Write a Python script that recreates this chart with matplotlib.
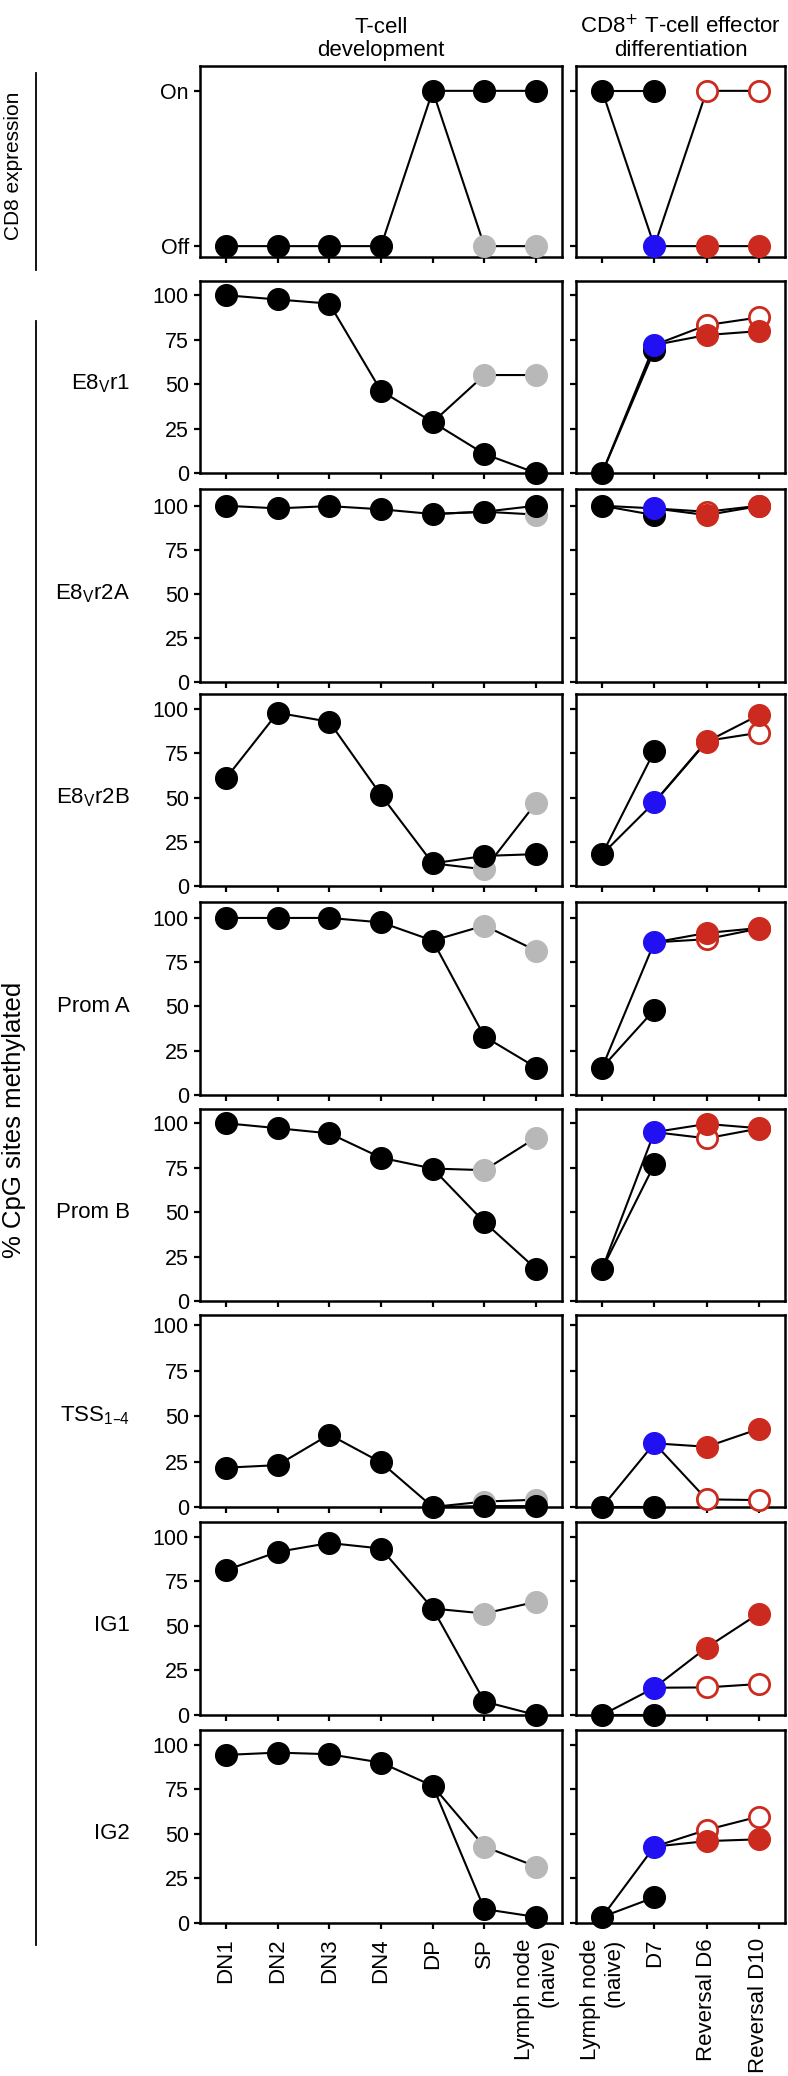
import matplotlib
matplotlib.use('Agg')
import matplotlib.pyplot as plt
from matplotlib.lines import Line2D

plt.rcParams['font.family'] = ['Liberation Sans', 'DejaVu Sans']

# categories
dev_cats = ['DN1', 'DN2', 'DN3', 'DN4', 'DP', 'SP', 'Lymph node\n(naive)']
eff_cats = ['Lymph node\n(naive)', 'D7', 'Reversal D6', 'Reversal D10']
row_names = ['', r'E8$_\mathregular{V}$r1', r'E8$_\mathregular{V}$r2A', r'E8$_\mathregular{V}$r2B',
             'Prom A', 'Prom B', 'TSS$_\\mathregular{1–4}$', 'IG1', 'IG2']

# T-cell development: black series over all 7 stages, gray series at SP / LN (branching from DP)
dev_black = [
    [0, 0, 0, 0, 1, 1, 1],
    [100, 97.6, 95.3, 46.2, 28.6, 10.7, 0],
    [100, 98.5, 99.8, 98, 95.3, 96.6, 100],
    [60.8, 97.9, 92.8, 51.4, 12.8, 17, 18],
    [100, 100, 100, 97.5, 87.2, 33, 15.5],
    [100, 97.2, 94.3, 80.6, 74.5, 44.3, 18],
    [21.6, 23, 39.8, 24.5, 0, 0.5, 0.5],
    [81.3, 91.6, 96.6, 93.5, 59.8, 7.5, 0],
    [94.4, 95.7, 94.8, 90.1, 77, 7.8, 3.4],
]
dev_gray = [
    [0, 0],
    [55.1, 55.1],
    [96.6, 95],
    [9.4, 47],
    [95.7, 81.5],
    [73.6, 91.9],
    [3, 4],
    [57, 63.6],
    [42.9, 31.7],
]

# CD8+ effector differentiation
eff_ln = [1, 0, 100, 17.9, 15.5, 18, 0, 0, 3.4]
eff_d7_black = [1, 69.2, 94.7, 76.3, 48.1, 76.8, 0, 0, 14.4]
eff_d7_blue = [0, 72, 98.5, 47.3, 86.2, 95, 35, 15.3, 42.9]
rev_filled = [[0, 0], [77.6, 79.8], [94.7, 99.8], [81.5, 96.6], [91.5, 94.3],
              [99.6, 97.2], [33.1, 42.9], [37.9, 57], [46, 47]]
rev_open = [[1, 1], [83.2, 87.5], [96.6, 100], [82, 86.6], [88, 94],
            [91.5, 97], [4.2, 3.8], [15.5, 17.4], [52.3, 59.8]]

ytop = [1.16, 108, 109.5, 108.5, 109, 108, 105.5, 108.4, 108.4]
row_px = [(66, 257), (281, 473), (489, 682), (694, 886), (902, 1095),
          (1109, 1301), (1315, 1507), (1522, 1715), (1730, 1923)]

W, H = 788, 2076
gray = '#b8b8b8'
blue = '#2010f2'
red = '#cc2a1e'
ms = 15.6
lw = 1.5

fig = plt.figure(figsize=(W / 100, H / 100), dpi=100)


def style(ax, last):
    for s in ax.spines.values():
        s.set_linewidth(1.8)
    ax.tick_params(direction='out', length=4, width=1.6, labelsize=15.5, pad=4)
    ax.tick_params(axis='x', pad=7)
    if not last:
        ax.set_xticklabels([])


for i, (t, b) in enumerate(row_px):
    last = i == len(row_px) - 1
    axl = fig.add_axes([200 / W, 1 - b / H, 362 / W, (b - t) / H])
    axr = fig.add_axes([576 / W, 1 - b / H, 209 / W, (b - t) / H])

    # left panel
    xs = list(range(7))
    axl.plot(xs, dev_black[i], color='black', lw=lw, zorder=2, clip_on=False)
    axl.plot([4, 5, 6], [dev_black[i][4]] + dev_gray[i], color='black', lw=lw, zorder=2, clip_on=False)
    axl.plot([5, 6], dev_gray[i], 'o', color=gray, ms=ms, mec=gray, zorder=3, clip_on=False)
    axl.plot(xs, dev_black[i], 'o', color='black', ms=ms, zorder=4, clip_on=False)
    axl.set_xlim(-0.5, 6.5)
    axl.set_xticks(xs)

    # right panel
    axr.plot([0, 1], [eff_ln[i], eff_d7_black[i]], color='black', lw=lw, zorder=2, clip_on=False)
    axr.plot([0, 1, 2, 3], [eff_ln[i], eff_d7_blue[i]] + rev_filled[i], color='black', lw=lw,
             zorder=2, clip_on=False)
    axr.plot([1, 2, 3], [eff_d7_blue[i]] + rev_open[i], color='black', lw=lw, zorder=2, clip_on=False)
    axr.plot([0, 1], [eff_ln[i], eff_d7_black[i]], 'o', color='black', ms=ms, zorder=3, clip_on=False)
    axr.plot([2, 3], rev_open[i], 'o', mfc='white', mec=red, mew=2, ms=ms - 1, zorder=3, clip_on=False)
    axr.plot([2, 3], rev_filled[i], 'o', color=red, ms=ms, zorder=4, clip_on=False)
    axr.plot([1], [eff_d7_blue[i]], 'o', color=blue, ms=ms, zorder=5, clip_on=False)
    axr.set_xlim(-0.5, 3.5)
    axr.set_xticks(range(4))

    if i == 0:
        for ax in (axl, axr):
            ax.set_ylim(-0.07, ytop[i])
            ax.set_yticks([0, 1])
        axl.set_yticklabels(['Off', 'On'])
    else:
        for ax in (axl, axr):
            ax.set_ylim(0, ytop[i])
            ax.set_yticks([0, 25, 50, 75, 100])
        # row label to the left of the tick labels
        axl.text(-1.85, 50, row_names[i], fontsize=16, ha='right', va='center')
    axr.set_yticklabels([])

    style(axl, last)
    style(axr, last)
    if last:
        axl.set_xticklabels(dev_cats, rotation=90, va='top', ha='center', multialignment='right',
                            fontsize=16)
        axr.set_xticklabels(eff_cats, rotation=90, va='top', ha='center', multialignment='right',
                            fontsize=16)

    if i == 0:
        axl.set_title('T-cell\ndevelopment', fontsize=16, pad=7, linespacing=1.15)
        axr.set_title('CD8$^{+}$ T-cell effector\ndifferentiation', fontsize=16, pad=7,
                      linespacing=1.15)

# bracket lines and group labels
fig.add_artist(Line2D([36 / W, 36 / W], [1 - 73 / H, 1 - 270 / H], color='black', lw=1.3))
fig.add_artist(Line2D([36 / W, 36 / W], [1 - 321 / H, 1 - 1945 / H], color='black', lw=1.3))
fig.text(14 / W, 1 - 166 / H, 'CD8 expression', rotation=90, ha='center', va='center', fontsize=15)
fig.text(14 / W, 1 - 1120 / H, '% CpG sites methylated', rotation=90, ha='center', va='center',
         fontsize=18.5)

fig.savefig('out.png', dpi=100)
